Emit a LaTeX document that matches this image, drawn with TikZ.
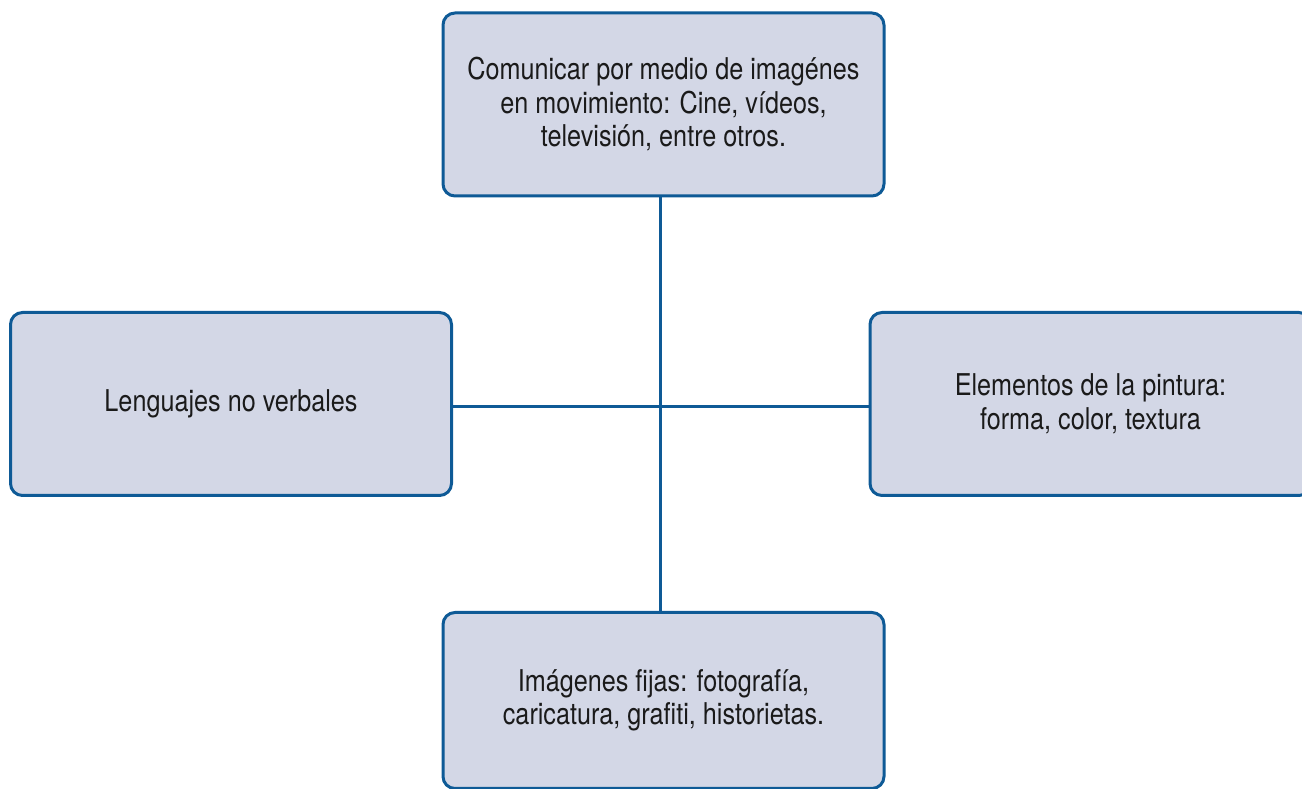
\documentclass[tikz,border=0pt]{standalone}
\usepackage{fontspec}
\setmainfont{TeX Gyre Heros}[FakeStretch=0.84]
\definecolor{boxfill}{HTML}{D3D7E6}
\definecolor{boxline}{HTML}{0E5A96}
\definecolor{txt}{HTML}{1A1A1A}
\begin{document}
\begin{tikzpicture}[x=1pt,y=1pt,
  box/.style={draw=boxline, fill=boxfill, line width=3pt, rounded corners=12pt,
    minimum width=441pt, minimum height=183pt, align=center, text=txt,
    font=\fontsize{30}{33.5}\selectfont, inner sep=0pt},
  link/.style={draw=boxline, line width=3pt}]
\useasboundingbox (0,0) rectangle (1302,789);
\clip (0,0) rectangle (1302,789);
\node[box] (top) at (663.5,684.5) {Comunicar por medio de imagénes\\en movimiento: Cine, vídeos,\\televisión, entre otros.};
\node[box] (left) at (231,385) {Lenguajes no verbales};
\node[box] (right) at (1090.5,385) {Elementos de la pintura:\\forma, color, textura};
\node[box, minimum height=176pt] (bottom) at (663.5,88.5) {Imágenes fijas: fotografía,\\caricatura, grafiti, historietas.};
\draw[link] ([xshift=-3.5pt]top.south) -- ([xshift=-3.5pt]bottom.north);
\draw[link] ([yshift=-3pt]left.east) -- ([yshift=-3pt]right.west);
\end{tikzpicture}
\end{document}
